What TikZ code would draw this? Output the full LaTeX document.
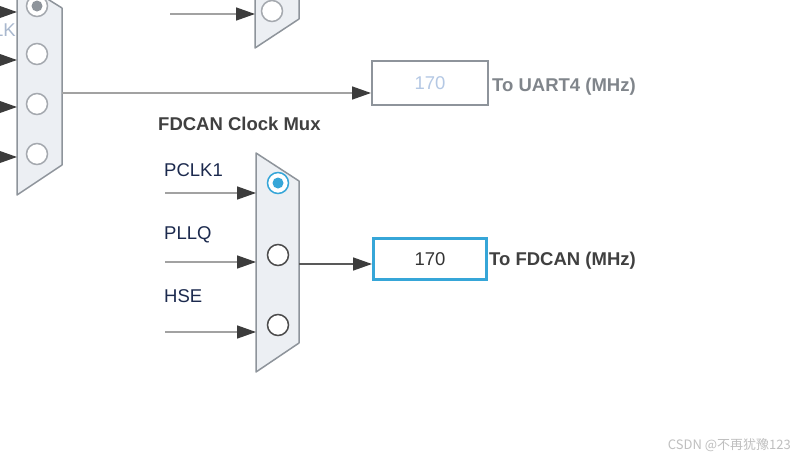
\documentclass[tikz,border=0pt]{standalone}
\usepackage{fontspec}
\setmainfont{Liberation Sans}
\newfontfamily\cjk{Noto Sans CJK SC}
\usetikzlibrary{arrows.meta,positioning}

\definecolor{muxfill}{HTML}{ECEFF3}
\definecolor{muxline}{HTML}{8E949B}
\definecolor{tipdark}{HTML}{3C3C3C}
\definecolor{wiregray}{HTML}{A2A2A2}
\definecolor{selblue}{HTML}{36A6D8}
\definecolor{fadeblue}{HTML}{B4C8E4}
\definecolor{navy}{HTML}{1C2A4E}

\begin{document}
\begin{tikzpicture}[
    x=1pt, y=-1pt,
    mux/.style={draw=muxline, fill=muxfill, line width=1.5pt, line join=round},
    outbox/.style={
        draw=muxline,
        line width=2pt,
        fill=white,
        minimum width=116pt,
        minimum height=44pt,
        inner sep=0pt,
        font=\fontsize{18.5}{20}\selectfont
    },
    pick/.style={circle, draw=#1, line width=1.5pt, fill=white, minimum size=21pt, inner sep=0pt},
    dot/.style={circle, fill=#1, minimum size=11pt, inner sep=0pt},
    lbl/.style={anchor=west, inner sep=0pt, font=\fontsize{18.5}{20}\selectfont},
    flow/.style={draw=wiregray, line width=1.5pt, -{Triangle[length=19pt,width=13pt,color=tipdark]}},
    every node/.style={text=navy}
]
    \clip (0,0) rectangle (808,461);
    \fill[white] (0,0) rectangle (808,461);

    % upper muxes, partly outside the view
    \draw[mux] (17,-20) -- (62,8) -- (62,165) -- (17,195) -- cycle;
    \draw[mux] (255,-40) -- (299,-12) -- (299,19) -- (255,48) -- cycle;
    \node[pick=muxline!80] (uart-in1) at (37,6) {};
    \node[dot=muxline] at (uart-in1) {};
    \node[pick=muxline!80] (uart-in2) at (37,54) {};
    \node[pick=muxline!80] (uart-in3) at (37,104) {};
    \node[pick=muxline!80] (uart-in4) at (37,154) {};
    \node[pick=muxline!80] (top-in1) at (272,11) {};
    \node[lbl, anchor=east, text=fadeblue!70!muxline] (uart-lk) at (16,30) {LK};

    \foreach \y [count=\i] in {12,60,107,157} {
        \coordinate (uart-src\i) at (-30,\y);
        \coordinate (uart-pin\i) at (17,\y);
        \draw[flow] (uart-src\i) -- (uart-pin\i);
    }
    \coordinate (top-src) at (170,14);
    \coordinate (top-pin) at (255,14);
    \draw[flow] (top-src) -- (top-pin);

    \node[outbox, text=fadeblue] (uart4-out) at (430,83) {170};
    \node[lbl, text=muxline!90!black, font=\fontsize{18.5}{20}\selectfont\bfseries] (uart4-lbl) at (492,87) {To UART4 (MHz)};
    \coordinate (uart-mux-out) at (62,93);
    \draw[flow] (uart-mux-out) -- (uart4-out.west |- uart-mux-out);

    % FDCAN clock mux
    \node[lbl, text=black!75, font=\fontsize{18.5}{20}\selectfont\bfseries] (fdcan-title) at (158,124) {FDCAN Clock Mux};
    \draw[mux] (256,153) -- (299,181) -- (299,343) -- (256,372) -- cycle;
    \node[pick=selblue] (fdcan-in1) at (278,183) {};
    \node[dot=selblue] at (fdcan-in1) {};
    \node[pick=black!70] (fdcan-in2) at (278,255) {};
    \node[pick=black!70] (fdcan-in3) at (278,325) {};

    \foreach \name/\y/\ly [count=\i] in {PCLK1/193/170, PLLQ/262/235, HSE/332/296} {
        \node[lbl] (fdcan-lbl\i) at (164,\ly) {\name};
        \coordinate (fdcan-src\i) at (165,\y);
        \coordinate (fdcan-pin\i) at (256,\y);
        \draw[flow] (fdcan-src\i) -- (fdcan-pin\i);
    }

    \node[outbox, draw=selblue, line width=3pt, minimum width=113pt, minimum height=41pt, text=black!80] (fdcan-out) at (430,259) {170};
    \node[lbl, text=black!75, font=\fontsize{18.5}{20}\selectfont\bfseries] (fdcan-out-lbl) at (489,261) {To FDCAN (MHz)};
    \coordinate (fdcan-mux-out) at (299,264);
    \draw[flow, draw=black!65] (fdcan-mux-out) -- (fdcan-out.west |- fdcan-mux-out);

    % watermark
    \node[anchor=east, inner sep=0pt, text=black!25, font=\cjk\fontsize{13}{15}\selectfont] (mark) at (791,445) {CSDN @不再犹豫123};
\end{tikzpicture}
\end{document}
